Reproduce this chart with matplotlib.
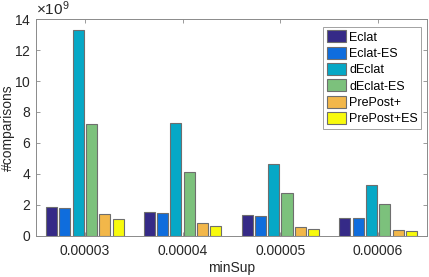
import matplotlib
matplotlib.use("Agg")
import matplotlib.pyplot as plt
import numpy as np

plt.rcParams['font.family'] = ['Liberation Sans', 'DejaVu Sans']
plt.rcParams['mathtext.fontset'] = 'custom'
plt.rcParams['mathtext.rm'] = 'Liberation Sans'
plt.rcParams['mathtext.it'] = 'Liberation Sans'

categories = ['0.00003', '0.00004', '0.00005', '0.00006']
series = ['Eclat', 'Eclat-ES', 'dEclat', 'dEclat-ES', 'PrePost+', 'PrePost+ES']
eclat = [1.88e9, 1.54e9, 1.32e9, 1.15e9]
eclat_es = [1.78e9, 1.45e9, 1.26e9, 1.13e9]
declat = [13.28e9, 7.28e9, 4.66e9, 3.31e9]
declat_es = [7.22e9, 4.12e9, 2.75e9, 2.08e9]
prepost = [1.39e9, 0.80e9, 0.54e9, 0.35e9]
prepost_es = [1.06e9, 0.61e9, 0.41e9, 0.29e9]
values = [eclat, eclat_es, declat, declat_es, prepost, prepost_es]
colors = ['#352a87', '#0f6ddd', '#06a8c6', '#7cc17c', '#f2b74a', '#f8fa0d']

fig = plt.figure(figsize=(4.29, 2.77), dpi=100)
ax = fig.add_axes([0.0839, 0.149, 0.9114, 0.782])

x = np.arange(1, len(categories) + 1)
step = 0.136
width = 0.113
for i, (name, vals, c) in enumerate(zip(series, values, colors)):
    ax.bar(x + (i - 2.5) * step, vals, width=width, color=c,
           edgecolor='#6e6e6e', linewidth=0.8, label=name, zorder=2)

ax.set_xlim(0.5, 4.5)
ax.set_ylim(0, 14e9)
ax.set_yticks(np.arange(0, 15e9, 2e9))
ax.set_xticks(x)
ax.set_xticklabels(categories)
ax.ticklabel_format(style='sci', axis='y', scilimits=(9, 9), useMathText=True)
ax.yaxis.get_offset_text().set_fontsize(11)
ax.yaxis.get_offset_text().set_color('#262626')

for s in ax.spines.values():
    s.set_color('#8a8a8a')
    s.set_linewidth(0.7)
ax.tick_params(direction='in', top=True, right=True, length=3, width=0.6,
               color='#8a8a8a', labelsize=10, labelcolor='#262626')
ax.tick_params(axis='x', pad=6)

ax.set_xlabel('minSup', fontsize=10, color='#262626', va='center')
ax.xaxis.set_label_coords(0.5, -0.148)
ax.set_ylabel('#comparisons', fontsize=10, color='#262626', va='center')
ax.yaxis.set_label_coords(-0.0716, 0.5)

leg = ax.legend(loc='upper right', bbox_to_anchor=(0.9845, 0.963), fontsize=9,
                frameon=True, fancybox=False, borderpad=0.25, labelspacing=0.25,
                handlelength=1.55, handleheight=1.1, handletextpad=0.25,
                borderaxespad=0)
leg.get_frame().set_edgecolor('#8a8a8a')
leg.get_frame().set_linewidth(0.7)
for h in leg.legend_handles:
    h.set_edgecolor('#6e6e6e')

fig.savefig('out.png', dpi=100)
